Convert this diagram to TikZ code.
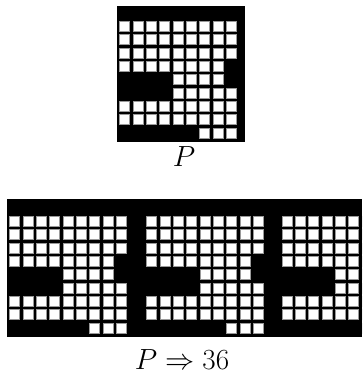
\documentclass[tikz,border=0pt]{standalone}
\usepackage{xcolor}
\usetikzlibrary{calc}
\definecolor{cellEdge}{HTML}{9A9A9A}
\tikzset{
  cell/.style={fill=white, draw=cellEdge, line width=0.55pt},
  board/.style={fill=black, draw=none},
  mathLabel/.style={font=\huge, anchor=base, inner sep=0pt}
}
\newcommand{\patternP}[2]{%
  \foreach \r/\cols in {0/{0,...,8},1/{0,...,8},2/{0,...,8},3/{0,...,7},4/{4,...,7},5/{4,...,8},6/{0,...,8},7/{0,...,8},8/{6,7,8}} {
    \foreach \c in \cols {
      \draw[cell] ({#1+\c*13.33+0.5},{#2+\r*13.33+0.5}) rectangle ++(9.8,9.8);
    }
  }
}

\begin{document}
\begin{tikzpicture}[x=0.025cm,y=-0.025cm]
\useasboundingbox (0,0) rectangle (362,387);

% --------------------------------------------------------------------------
% Pattern P
% --------------------------------------------------------------------------
\fill[board] (117,6) rectangle (245,142);
\patternP{119.3}{21}
\node[mathLabel] (pLabel) at (184,166) {$P$};

% --------------------------------------------------------------------------
% Three copies, cut at the right edge
% --------------------------------------------------------------------------
\begin{scope}
  \clip (7,199.3) rectangle (362,336.7);
  \fill[board] (7,199.3) rectangle (362,336.7);
  \patternP{9.3}{216}
  \patternP{146.3}{216}
  \patternP{281.7}{216}
\end{scope}
\node[mathLabel] (rowLabel) at (182,369) {$P \Rightarrow 36$};

\end{tikzpicture}
\end{document}
